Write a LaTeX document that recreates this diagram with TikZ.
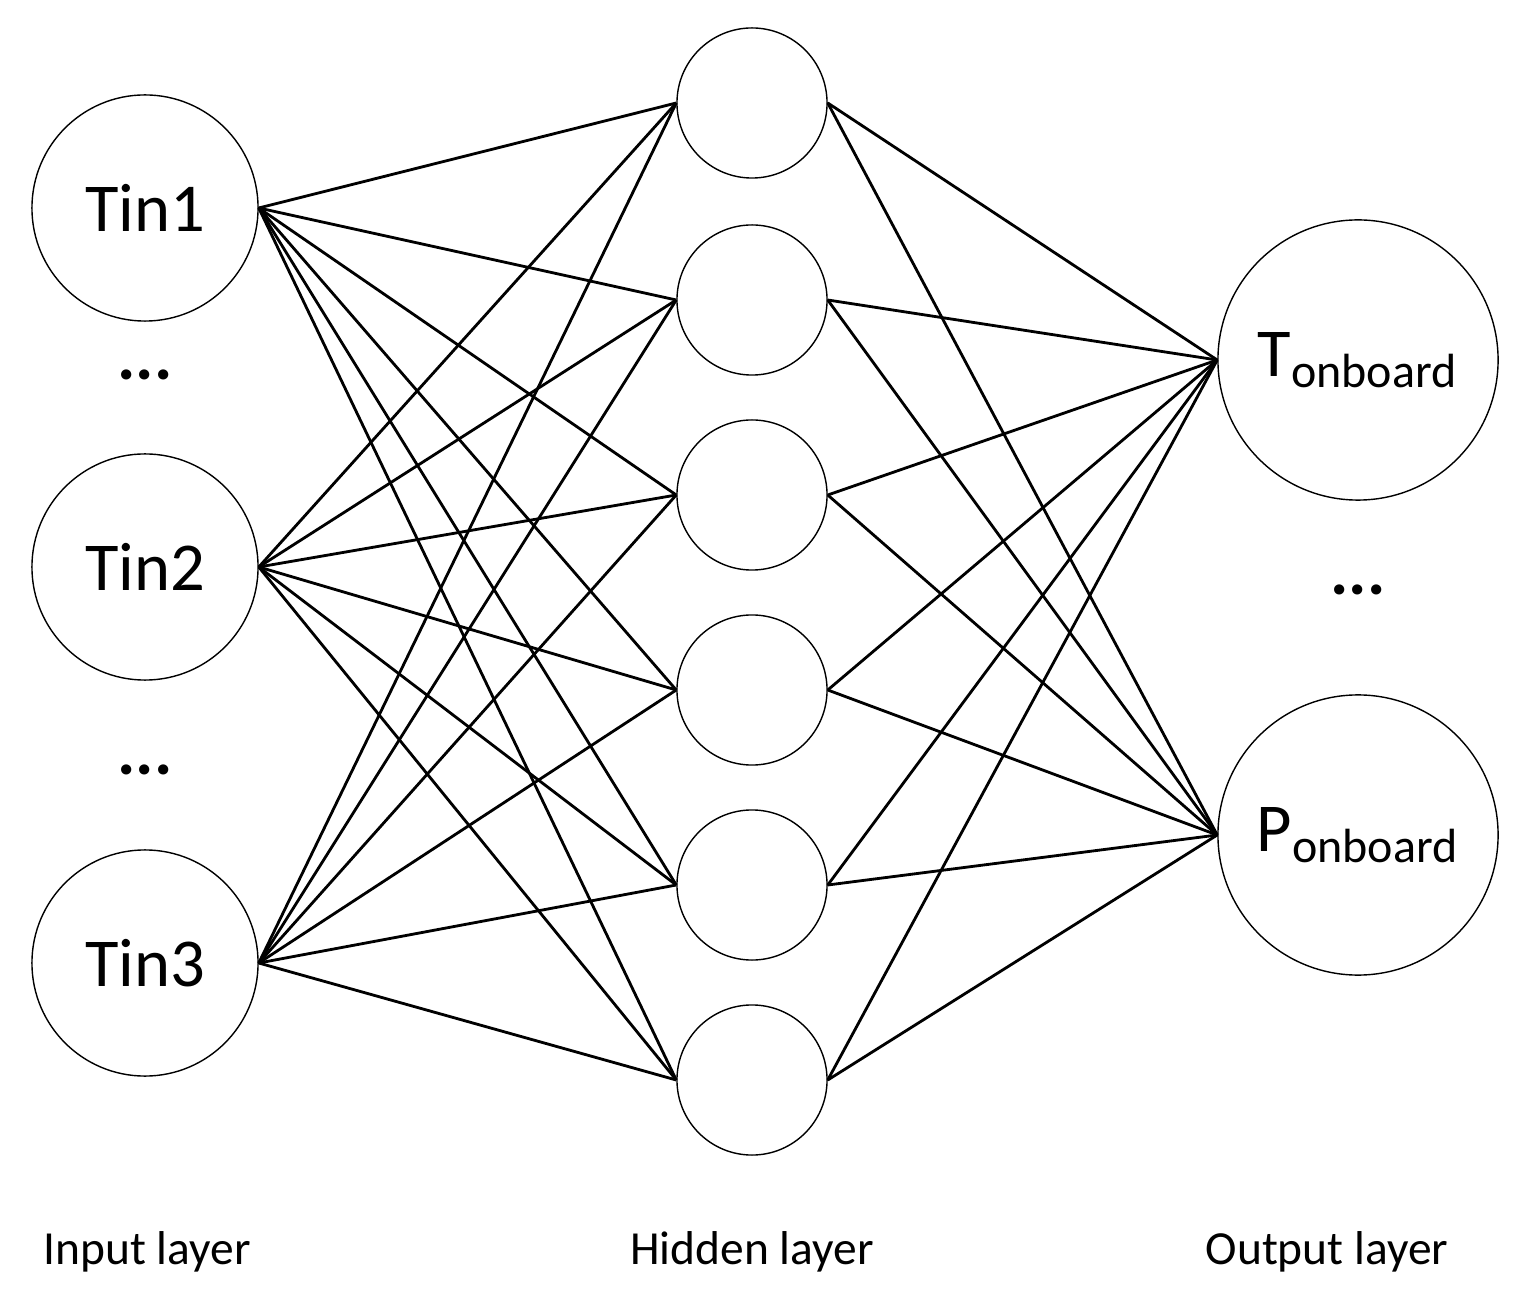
\documentclass[tikz,border=0pt]{standalone}
\usepackage{fontspec}
\setmainfont{Carlito}
\begin{document}
\begin{tikzpicture}[x=0.01cm, y=-0.01cm,
	inp/.style={circle, draw, thin, minimum size=2.26cm, inner sep=0pt, font=\fontsize{19.5}{22}\selectfont},
	hid/.style={circle, draw, thin, minimum size=1.5cm, inner sep=0pt},
	outp/.style={circle, draw, thin, minimum size=2.8cm, inner sep=0pt, font=\fontsize{19.5}{22}\selectfont},
	lab/.style={font=\fontsize{13.5}{16}\selectfont},
	link/.style={thick}]
	\useasboundingbox (0,0) rectangle (1531,1304);

	\node[inp](i1) at (145,208) {Tin1};
	\node[inp](i2) at (145,567) {Tin2};
	\node[inp](i3) at (145,963) {Tin3};
	\node[inp, draw=none](d1) at (145,375) {\textbf{...}};
	\node[inp, draw=none](d2) at (145,770) {\textbf{...}};

	\node[hid](h1) at (752,103) {};
	\node[hid](h2) at (752,300) {};
	\node[hid](h3) at (752,495) {};
	\node[hid](h4) at (752,690) {};
	\node[hid](h5) at (752,885) {};
	\node[hid](h6) at (752,1080) {};

	\node[outp](o1) at (1358,360) {T\textsubscript{onboard}};
	\node[outp](o2) at (1358,835) {P\textsubscript{onboard}};
	\node[outp, draw=none](d3) at (1358,590) {\textbf{...}};

	\foreach \i in {1,2,3}
		\foreach \h in {1,...,6}
			\draw[link](i\i.east) -- (h\h.west);
	\foreach \h in {1,...,6}
		\foreach \o in {1,2}
			\draw[link](h\h.east) -- (o\o.west);

	\node[lab](l1) at (147,1252) {Input layer};
	\node[lab](l2) at (752,1252) {Hidden layer};
	\node[lab](l3) at (1327,1252) {Output layer};
\end{tikzpicture}
\end{document}
